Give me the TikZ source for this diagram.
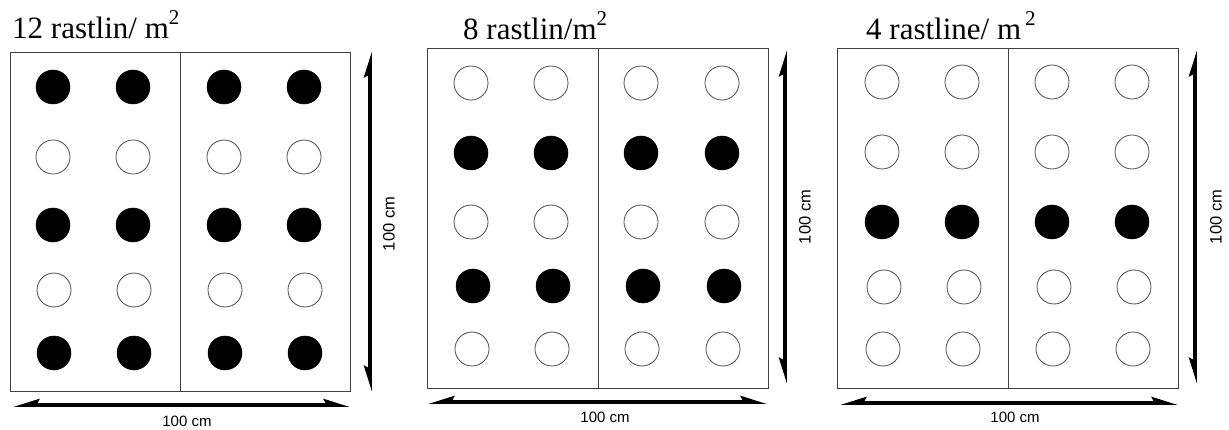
\documentclass[tikz,border=0pt]{standalone}
\usepackage{fontspec}
\setmainfont{Liberation Serif}
\newfontfamily\labfont{Liberation Sans}
\usetikzlibrary{arrows.meta}
\newcommand\supsq[1][0pt]{\hspace{#1}\raisebox{14pt}{\fontsize{21}{21}\selectfont 2}}
\tikzset{
  x=1pt, y=-1pt,
  plot/.style={draw=black!75, line width=0.9pt},
  divider/.style={draw=black!75, line width=0.9pt},
  full/.style={circle, fill=black, draw=black, line width=0.5pt, minimum size=34pt, inner sep=0pt},
  empty/.style={circle, fill=white, draw=black!70, line width=0.8pt, minimum size=34pt, inner sep=0pt},
  dim/.style={line width=3.8pt, {Stealth[harpoon,swap,length=20pt,width=12pt,inset=3pt]}-{Stealth[harpoon,length=20pt,width=12pt,inset=3pt]}},
  title/.style={font=\fontsize{31}{34}\selectfont, anchor=base west, inner sep=0pt},
  hlab/.style={font=\labfont\fontsize{15}{17}\selectfont, inner sep=0pt},
  vlab/.style={font=\labfont\fontsize{16.5}{18}\selectfont, inner sep=0pt, rotate=90},
}
\begin{document}
\begin{tikzpicture}
\useasboundingbox (0,0) rectangle (1229,430);
\fill[white] (0,0) rectangle (1229,430);
% ---------- panel 1 ----------
\node[title] (t1) at (12,39) {12 rastlin/ m\supsq};
\draw[plot] (10,52) coordinate (a1) rectangle (350,391) coordinate (b1);
\draw[divider] (180,52) coordinate (d1t) -- (180,391) coordinate (d1b);
\foreach \c/\x in {1/53,2/133,3/224,4/304}{
  \node[full]  (p1r1c\c) at (\x,87) {};
  \node[empty] (p1r2c\c) at (\x,157) {};
  \node[full]  (p1r3c\c) at (\x,225) {};
  \node[empty] (p1r4c\c) at (\x+1,290) {};
  \node[full]  (p1r5c\c) at (\x+1,353) {};
}
\coordinate (h1l) at (13,405); \coordinate (h1r) at (350,405);
\draw[dim] (h1l) -- (h1r);
\node[hlab] (hl1) at (187,421) {100 cm};
\coordinate (v1b) at (370,392); \coordinate (v1t) at (370,51);
\draw[dim] (v1b) -- (v1t);
\node[vlab] (vl1) at (389,224) {100 cm};
% ---------- panel 2 ----------
\node[title] (t2) at (463,40) {8 rastlin/m\supsq};
\draw[plot] (427,48) coordinate (a2) rectangle (768,388) coordinate (b2);
\draw[divider] (598,48) coordinate (d2t) -- (598,388) coordinate (d2b);
\foreach \c/\x in {1/471,2/551,3/641,4/722}{
  \node[empty] (p2r1c\c) at (\x,83) {};
  \node[full]  (p2r2c\c) at (\x,153) {};
  \node[empty] (p2r3c\c) at (\x,222) {};
  \node[full]  (p2r4c\c) at (\x+2,286) {};
  \node[empty] (p2r5c\c) at (\x+1,349) {};
}
\coordinate (h2l) at (428,402); \coordinate (h2r) at (767,402);
\draw[dim] (h2l) -- (h2r);
\node[hlab] (hl2) at (605,417) {100 cm};
\coordinate (v2b) at (785,384); \coordinate (v2t) at (785,50);
\draw[dim] (v2b) -- (v2t);
\node[vlab] (vl2) at (805,217) {100 cm};
% ---------- panel 3 ----------
\node[title] (t3) at (866,40) {4 rastline/ m\supsq[4pt]};
\draw[plot] (837,48) coordinate (a3) rectangle (1178,388) coordinate (b3);
\draw[divider] (1008,48) coordinate (d3t) -- (1008,388) coordinate (d3b);
\foreach \c/\x in {1/882,2/962,3/1052,4/1132}{
  \node[empty] (p3r1c\c) at (\x,82) {};
  \node[empty] (p3r2c\c) at (\x,152) {};
  \node[full]  (p3r3c\c) at (\x,222) {};
  \node[empty] (p3r4c\c) at (\x+2,287) {};
  \node[empty] (p3r5c\c) at (\x+1,349) {};
}
\coordinate (h3l) at (840,403); \coordinate (h3r) at (1178,403);
\draw[dim] (h3l) -- (h3r);
\node[hlab] (hl3) at (1015,417) {100 cm};
\coordinate (v3b) at (1195,384); \coordinate (v3t) at (1195,50);
\draw[dim] (v3b) -- (v3t);
\node[vlab] (vl3) at (1216,217) {100 cm};
\end{tikzpicture}
\end{document}
